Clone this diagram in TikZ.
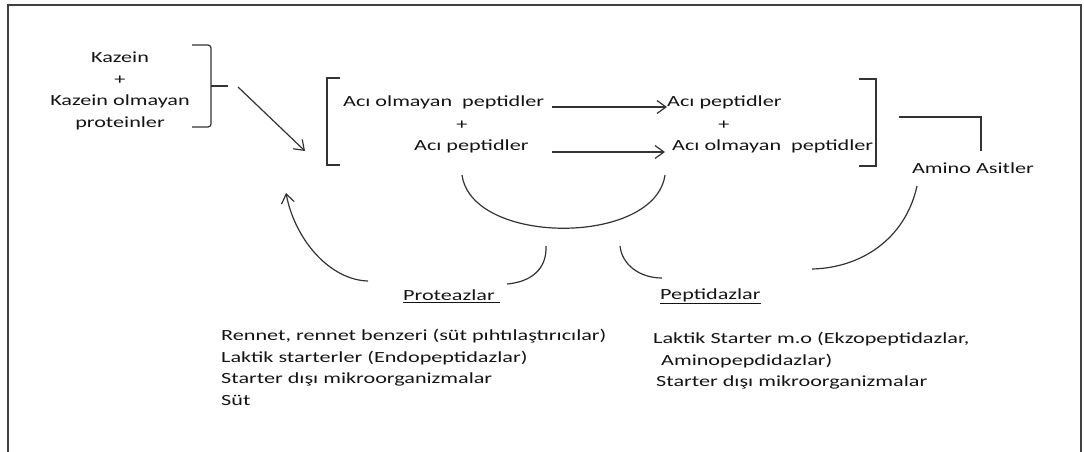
\documentclass[tikz,border=0pt]{standalone}
\usepackage{fontspec}
\setmainfont{Carlito}[FakeStretch=1.43]
\usetikzlibrary{arrows.meta}
\begin{document}
\begin{tikzpicture}[x=1pt,y=-1pt,
  txt/.style={font=\fontsize{15.5}{21.7}\selectfont, inner sep=0pt, text=black!92},
  ln/.style={line width=1.2pt, draw=black!80},
  arr/.style={ln, -{Straight Barb[length=9pt,width=13pt,line width=1.2pt]}}
]
\useasboundingbox (0,0) rectangle (1084,452);
% frame
\draw[line width=2.2pt, black!75] (8,452) -- (8,5) -- (1081,5) -- (1081,452);

% left block
\node[txt, align=center] (kaz) at (120,91) {Kazein\\+\\Kazein olmayan\\proteinler};
\draw[ln, rounded corners=3pt] (192,45) -- (211,45) -- (211,86) -- (211,127) -- (192,127);
\coordinate (bt) at (211,86);
\coordinate (btE) at (228,86);
\draw[ln] (bt) -- (btE);
\coordinate (bOut) at (238,87);
\coordinate (bIn) at (305,151);
\draw[arr] (bOut) -- (bIn);

% middle bracket group
\draw[ln] (340,78) -- (327,78) -- (327,165) -- (340,165);
\node[txt, anchor=west] (n1) at (343,102) {Acı olmayan\ \ peptidler};
\node[txt] (p1) at (462,125) {+};
\node[txt, anchor=west] (n2) at (414,146) {Acı peptidler};
\node[txt, anchor=west] (n3) at (667,102) {Acı peptidler};
\node[txt] (p2) at (724,125) {+};
\node[txt, anchor=west] (n4) at (672,146) {Acı olmayan\ \ peptidler};
\draw[ln] (859,79) -- (876,79) -- (876,166) -- (859,166);

\coordinate (a1s) at (552,107);
\coordinate (a2s) at (552,152);
\draw[arr] (a1s) -- (a1s -| n3.west);
\draw[arr] (a2s) -- ([xshift=-7pt]a2s -| n4.west);

% amino acids
\node[txt] (amino) at (973,168) {Amino Asitler};
\coordinate (am1) at (899,117);
\coordinate (am2) at (981,117);
\coordinate (am3) at (981,151);
\draw[ln] (am1) -- (am2) -- (am3);

% curves
\coordinate (uL) at (462,175);
\coordinate (uR) at (665,175);
\draw[ln] (uL) .. controls (472,246) and (655,246) .. (uR);

\coordinate (cA) at (368,281);
\coordinate (cAt) at (286,193);
\draw[arr] (cA) .. controls (330,280) and (295,240) .. (cAt);

\coordinate (cB1) at (546,246);
\coordinate (cB2) at (507,284);
\draw[ln] (cB1) .. controls (547,270) and (530,282) .. (cB2);

\coordinate (cC1) at (620,246);
\coordinate (cC2) at (662,278);
\draw[ln] (cC1) .. controls (622,265) and (640,278) .. (cC2);

\coordinate (cD1) at (917,186);
\coordinate (cD2) at (812,269);
\draw[ln] (cD1) .. controls (905,240) and (860,268) .. (cD2);

% headings
\node[txt, anchor=west] (prot) at (403,296) {\underline{Proteazlar\ }};
\node[txt, anchor=west] (pept) at (660,296) {\underline{Peptidazlar}};

% lists
\node[txt, anchor=north west, align=left] (plist) at (221,329)
  {Rennet, rennet benzeri (süt pıhtılaştırıcılar)\\Laktik starterler (Endopeptidazlar)\\Starter dışı mikroorganizmalar\\Süt};
\node[txt, anchor=west] (r1) at (653,339) {Laktik Starter m.o (Ekzopeptidazlar,};
\node[txt, anchor=west] (r2) at (661,361) {Aminopepdidazlar)};
\node[txt, anchor=west] (r3) at (656,382) {Starter dışı mikroorganizmalar};
\end{tikzpicture}
\end{document}
